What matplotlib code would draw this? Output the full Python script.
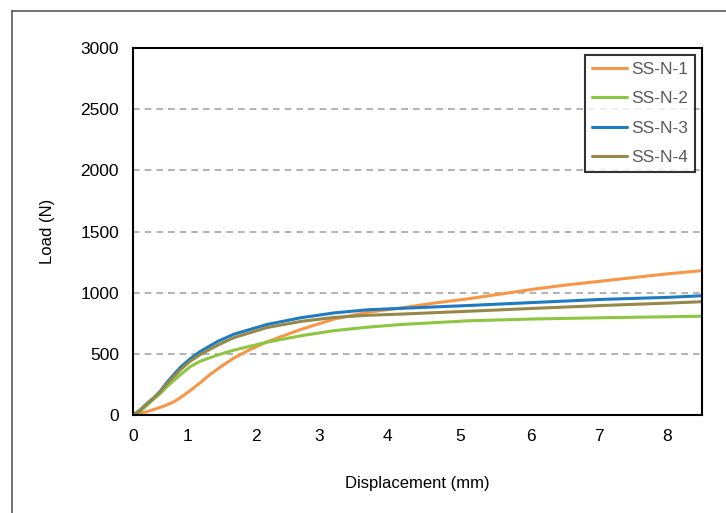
import matplotlib
matplotlib.use("Agg")
import matplotlib.pyplot as plt
from matplotlib.lines import Line2D
import numpy as np

plt.rcParams['font.family'] = ['Liberation Sans', 'DejaVu Sans']

series_names = ["SS-N-1", "SS-N-2", "SS-N-3", "SS-N-4"]
colors = ["#F79646", "#8DC641", "#1F7BC1", "#968849"]

# x-axis as drawn in the reference: tick labels are not evenly spaced
tick_values = [0, 1, 2, 3, 4, 5, 6, 7, 8, 8.5]
tick_positions = [0.0, 54.5, 122.5, 186.5, 254.5, 327.5, 397.5, 465.5, 534.5, 569.0]

x1 = [0.0, 0.13, 0.26, 0.38, 0.50, 0.62, 0.75, 0.87, 1.04, 1.19, 1.34, 1.49, 1.68, 1.93, 2.18, 2.71, 3.22, 3.71, 4.19, 4.64, 5.11, 5.59, 6.06, 6.56, 7.05, 7.53, 8.02, 8.5]
y1 = [0, 12, 28, 45, 62, 82, 108, 142, 200, 265, 335, 395, 465, 538, 598, 700, 785, 840, 875, 915, 950, 990, 1030, 1065, 1095, 1125, 1155, 1180]

x2 = [0.0, 0.13, 0.26, 0.38, 0.50, 0.62, 0.87, 1.04, 1.19, 1.44, 1.68, 2.18, 2.71, 3.22, 3.71, 4.19, 5.11, 6.06, 7.05, 8.02, 8.5]
y2 = [0, 30, 80, 130, 175, 230, 330, 395, 440, 490, 530, 595, 648, 690, 718, 740, 770, 785, 795, 803, 808]

x3 = [0.0, 0.13, 0.26, 0.38, 0.50, 0.62, 0.75, 0.87, 1.04, 1.19, 1.44, 1.68, 2.18, 2.71, 3.22, 3.71, 4.19, 5.11, 6.06, 7.05, 8.02, 8.5]
y3 = [0, 40, 95, 140, 195, 265, 330, 390, 460, 520, 600, 660, 740, 795, 835, 860, 872, 895, 920, 945, 962, 975]

x4 = [0.0, 0.13, 0.26, 0.38, 0.50, 0.62, 0.75, 0.87, 1.04, 1.19, 1.44, 1.68, 2.18, 2.71, 3.22, 3.71, 4.19, 5.11, 6.06, 7.05, 8.02, 8.5]
y4 = [0, 40, 95, 140, 190, 255, 315, 370, 440, 495, 570, 632, 715, 765, 798, 815, 825, 848, 872, 895, 915, 926]

xs = [x1, x2, x3, x4]
ys = [y1, y2, y3, y4]

tv = np.array(tick_values, dtype=float)
tp = np.array(tick_positions, dtype=float)


def fwd(v):
    return np.interp(v, tv, tp, left=None, right=None)


def inv(p):
    return np.interp(p, tp, tv)


fig = plt.figure(figsize=(7.26, 5.13), dpi=100)
ax = fig.add_axes([133/726, 1-415/513, (702-133)/726, (415-48)/513])
ax.set_xscale('function', functions=(fwd, inv))

for x, y, c, n in zip(xs, ys, colors, series_names):
    ax.plot(x, y, color=c, lw=2.2, label=n, solid_capstyle='round', solid_joinstyle='round')

ax.set_xlim(0, 8.5)
ax.set_ylim(0, 3000)
ax.set_xticks(range(0, 9))
ax.set_xticklabels([str(i) for i in range(0, 9)])
ax.minorticks_off()
ax.set_yticks(range(0, 3001, 500))
for yv in range(500, 3000, 500):
    ax.axhline(yv, color="#A6A6A6", lw=1.2, ls=(0, (4, 3)), zorder=0)
for s in ax.spines.values():
    s.set_color("black")
    s.set_linewidth(1.5)
ax.tick_params(length=0, labelsize=12.5, pad=10, colors="black")
ax.set_xlabel("Displacement (mm)", fontsize=12, labelpad=23)
ax.set_ylabel("Load (N)", fontsize=12, labelpad=18)

leg = ax.legend(loc="upper right", fontsize=12.5, frameon=True, fancybox=False,
                edgecolor="black", handlelength=2.0, handletextpad=0.25,
                borderpad=0.4, labelspacing=0.82, borderaxespad=0.4)
leg.get_frame().set_linewidth(1.5)
for t in leg.get_texts():
    t.set_color("#595959")

# outer border
fig.add_artist(Line2D([12/726, 1], [1-11/513, 1-11/513], color="#595959", lw=1.2, transform=fig.transFigure))
fig.add_artist(Line2D([12/726, 12/726], [0, 1-11/513], color="#595959", lw=1.2, transform=fig.transFigure))

fig.savefig("out.png", dpi=100)
